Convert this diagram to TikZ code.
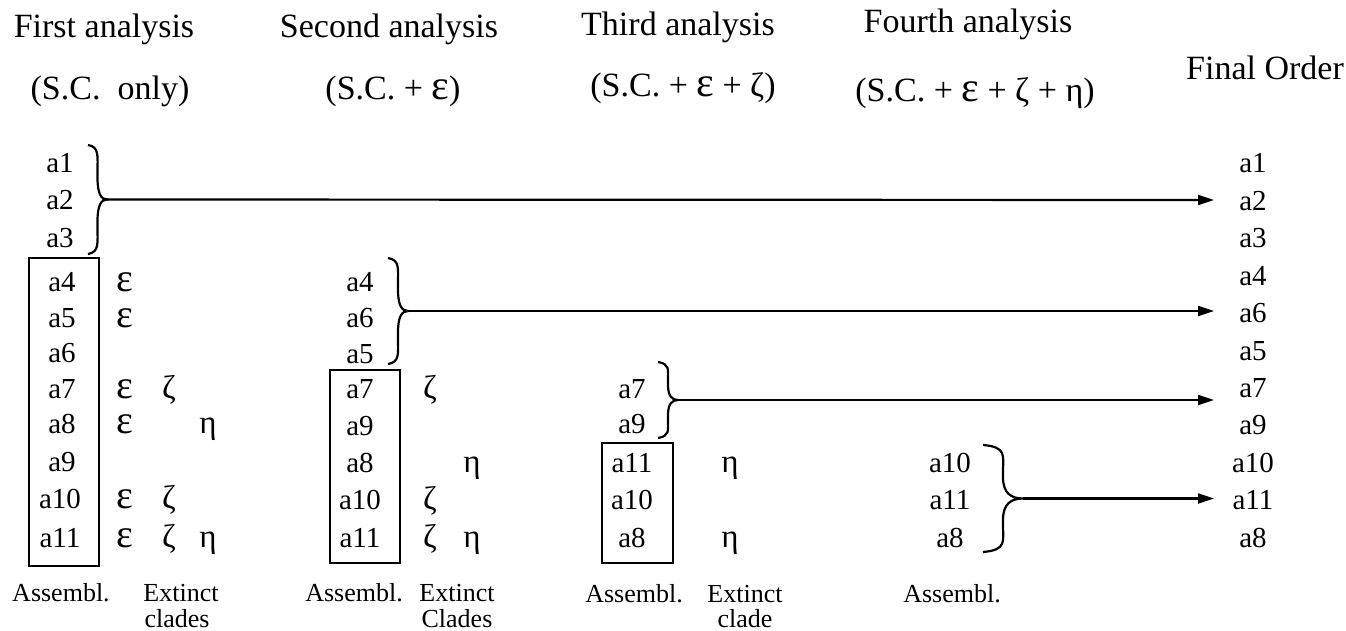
\documentclass[tikz,border=0pt]{standalone}
\usepackage{fontspec}
\setmainfont{Liberation Serif}
\usetikzlibrary{arrows.meta}
\newcommand{\myeps}{{\fontsize{42}{42}\selectfont ε}}
\tikzset{
  lbl/.style={inner sep=0pt, anchor=base, font=\fontsize{29}{30}\selectfont},
  ttl/.style={inner sep=0pt, anchor=base, font=\fontsize{34}{36}\selectfont},
  grk/.style={inner sep=0pt, anchor=base, font=\fontsize{33}{34}\selectfont},
  epsn/.style={inner sep=0pt, anchor=base, font=\fontsize{40}{40}\selectfont},
  foot/.style={inner sep=0pt, anchor=base, font=\fontsize{26}{28}\selectfont},
  grp/.style={draw, line width=2.6pt, inner sep=0pt},
  brc/.style={line width=2.2pt},
  arr/.style={line width=2.2pt, -{Triangle[length=16pt,width=10pt]}},
}
\newcommand{\mybrace}[5]{%
  \pgfmathsetmacro\bxm{#2+0.5*(#5-#2)}%
  \pgfmathsetmacro\bym{(#3+#4)/2}%
  \pgfmathsetmacro\bH{#4-#3}%
  \pgfmathsetmacro\bw{#5-#2}%
  \coordinate (#1) at (#5,\bym);
  \draw[brc] (#2,#3) .. controls ({\bxm+0.1*\bw},{#3+2}) and (\bxm,{#3+0.1*\bH}) .. (\bxm,{#3+0.25*\bH})
    -- (\bxm,{\bym-0.2*\bH}) .. controls (\bxm,{\bym-0.05*\bH}) and ({#5-0.3*\bw},\bym) .. (#1)
    .. controls ({#5-0.3*\bw},\bym) and (\bxm,{\bym+0.05*\bH}) .. (\bxm,{\bym+0.2*\bH})
    -- (\bxm,{#4-0.25*\bH}) .. controls (\bxm,{#4-0.1*\bH}) and ({\bxm+0.1*\bw},{#4-2}) .. (#2,#4);
}
\begin{document}
\begin{tikzpicture}[x=1pt,y=-1pt]
\useasboundingbox (0,0) rectangle (1346,631);
% titles
\node[ttl] (t1) at (104,38) {First analysis};
\node[ttl] (s1) at (110,100) {(S.C.\ \ only)};
\node[ttl] (t2) at (389,38) {Second analysis};
\node[ttl] (s2) at (393,100) {(S.C. + \myeps)};
\node[ttl] (t3) at (678,36) {Third analysis};
\node[ttl] (s3) at (683,97) {(S.C. + \myeps{} + ζ)};
\node[ttl] (t4) at (968,33) {Fourth analysis};
\node[ttl] (s4) at (975,102) {(S.C. + \myeps{} + ζ + η)};
\node[ttl] (tf) at (1265,80) {Final Order};
% column 1
\node[grp, minimum width=70pt, minimum height=308pt] (box1) at (64,412) {};
\node[lbl] (c1a1) at (60,173) {a1};
\node[lbl] (c1a2) at (60,210) {a2};
\node[lbl] (c1a3) at (60,247) {a3};
\node[lbl] (c1a4) at (62,291) {a4};
\node[lbl] (c1a5) at (62,327) {a5};
\node[lbl] (c1a6) at (62,362) {a6};
\node[lbl] (c1a7) at (62,398) {a7};
\node[lbl] (c1a8) at (62,433) {a8};
\node[lbl] (c1a9) at (62,471) {a9};
\node[lbl] (c1a10) at (60,508) {a10};
\node[lbl] (c1a11) at (60,547) {a11};
\node[epsn] (e14) at (125,291) {ε};
\node[epsn] (e15) at (125,327) {ε};
\node[epsn] (e17) at (125,398) {ε};
\node[epsn] (e18) at (125,433) {ε};
\node[epsn] (e110) at (125,508) {ε};
\node[epsn] (e111) at (125,547) {ε};
\node[grk] (z17) at (169,398) {ζ};
\node[grk] (z110) at (169,508) {ζ};
\node[grk] (z111) at (169,547) {ζ};
\node[grk] (h18) at (208,433) {η};
\node[grk] (h111) at (208,547) {η};
\node[foot] (as1) at (61,601) {Assembl.};
\node[foot] (ex1) at (181,601) {Extinct};
\node[foot] (cl1) at (177,627) {clades};
\mybrace{b1}{88}{145}{254}{107}
% column 2
\node[grp, minimum width=70pt, minimum height=193pt] (box2) at (365,466.5) {};
\node[lbl] (c2a4) at (360,291) {a4};
\node[lbl] (c2a6) at (360,327) {a6};
\node[lbl] (c2a5) at (360,363) {a5};
\node[lbl] (c2a7) at (360,398) {a7};
\node[lbl] (c2a9) at (360,435) {a9};
\node[lbl] (c2a8) at (360,472) {a8};
\node[lbl] (c2a10) at (360,509) {a10};
\node[lbl] (c2a11) at (360,547) {a11};
\node[grk] (z27) at (430,398) {ζ};
\node[grk] (z210) at (430,509) {ζ};
\node[grk] (z211) at (430,547) {ζ};
\node[grk] (h28) at (472,472) {η};
\node[grk] (h211) at (472,547) {η};
\node[foot] (as2) at (354,601) {Assembl.};
\node[foot] (ex2) at (457,601) {Extinct};
\node[foot] (cl2) at (457,627) {Clades};
\mybrace{b2}{388}{258}{364}{408}
% column 3
\node[grp, minimum width=71pt, minimum height=120pt] (box3) at (637.5,503) {};
\node[lbl] (c3a7) at (632,398) {a7};
\node[lbl] (c3a9) at (632,433) {a9};
\node[lbl] (c3a11) at (632,472) {a11};
\node[lbl] (c3a10) at (632,509) {a10};
\node[lbl] (c3a8) at (632,547) {a8};
\node[grk] (h311) at (730,472) {η};
\node[grk] (h38) at (730,547) {η};
\node[foot] (as3) at (634,602) {Assembl.};
\node[foot] (ex3) at (745,602) {Extinct};
\node[foot] (cl3) at (745,627) {clade};
\mybrace{b3}{658}{362}{438}{678}
% column 4
\node[lbl] (c4a10) at (950,472) {a10};
\node[lbl] (c4a11) at (950,509) {a11};
\node[lbl] (c4a8) at (950,547) {a8};
\node[foot] (as4) at (952,602) {Assembl.};
\mybrace{b4}{983}{445}{552}{1023}
% final order
\node[lbl] (fa1) at (1253,173) {a1};
\node[lbl] (fa2) at (1253,210.4) {a2};
\node[lbl] (fa3) at (1253,247.8) {a3};
\node[lbl] (fa4) at (1253,285.2) {a4};
\node[lbl] (fa6) at (1253,322.6) {a6};
\node[lbl] (fa5) at (1253,360) {a5};
\node[lbl] (fa7) at (1253,397.4) {a7};
\node[lbl] (fa9) at (1253,434.8) {a9};
\node[lbl] (fa10) at (1253,472.2) {a10};
\node[lbl] (fa11) at (1253,509.6) {a11};
\node[lbl] (fa8) at (1253,547) {a8};
% arrows
\coordinate (e1) at (1214,200);
\coordinate (e2) at (1214,311);
\coordinate (e3) at (1214,400);
\coordinate (e4) at (1214,498.5);
\draw[arr] (b1) -- (e1);
\draw[arr] (b2) -- (e2);
\draw[arr] (b3) -- (e3);
\draw[arr] (b4) -- (e4);
\end{tikzpicture}
\end{document}
